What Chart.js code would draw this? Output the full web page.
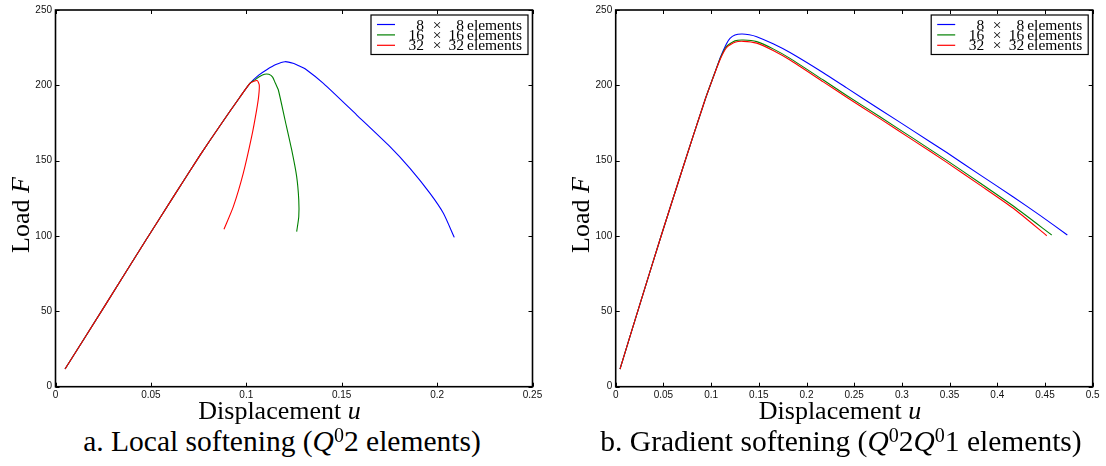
<!DOCTYPE html>
<html>
<head>
<meta charset="utf-8">
<script src="https://cdn.jsdelivr.net/npm/chart.js@4/dist/chart.umd.min.js"></script>
<style>
  html, body { margin: 0; padding: 0; background: #fff; }
  body { width: 1106px; height: 466px; position: relative; overflow: hidden;
         font-family: "Liberation Serif", "Times New Roman", serif; color: #000; }
  canvas { position: absolute; top: 0; }
  .txt { position: absolute; white-space: nowrap; text-align: center; line-height: 1; }
  .rot { transform: rotate(-90deg); }
  sup { font-size: 0.68em; vertical-align: 0; position: relative; top: -0.45em; }
</style>
</head>
<body>
<canvas id="chartLocal" width="560" height="410" style="left:0"></canvas>
<canvas id="chartGradient" width="546" height="410" style="left:560px"></canvas>

<div class="txt rot" style="left:-78.8px; top:202px; width:200px; height:26px; font-size:26px;">Load <i>F</i></div>
<div class="txt rot" style="left:481.4px; top:202px; width:200px; height:26px; font-size:26px;">Load <i>F</i></div>

<div class="txt" style="left:129.5px; top:397.5px; width:300px; font-size:26px;">Displacement <i>u</i></div>
<div class="txt" style="left:690px; top:397.5px; width:300px; font-size:26px;">Displacement <i>u</i></div>

<div class="txt" style="left:-18px; top:427px; width:600px; font-size:29.5px;">a. Local softening (<i>Q</i><sup>0</sup>2 elements)</div>
<div class="txt" style="left:541px; top:427px; width:600px; font-size:29.5px;">b. Gradient softening (<i>Q</i><sup>0</sup>2<i>Q</i><sup>0</sup>1 elements)</div>

<script>
// Axis ticks and their printed labels
const yTicks = [0, 50, 100, 150, 200, 250];
const yTickLabels = ['0', '50', '100', '150', '200', '250'];
const xTicksLocal = [0, 0.05, 0.1, 0.15, 0.2, 0.25];
const xTickLabelsLocal = ['0', '0.05', '0.1', '0.15', '0.2', '0.25'];
const xTicksGradient = [0, 0.05, 0.1, 0.15, 0.2, 0.25, 0.3, 0.35, 0.4, 0.45, 0.5];
const xTickLabelsGradient = ['0', '0.05', '0.1', '0.15', '0.2', '0.25', '0.3', '0.35', '0.4', '0.45', '0.5'];

// Mesh sizes (n x n elements) and line colours
const meshSizes = [8, 16, 32];
const meshColors = ['#0000ff', '#008000', '#ff0000'];

// Local softening: [displacement u, load F]
const local8 = [
  [0.005, 11.7], [0.026, 54], [0.047, 96.5], [0.062, 126.5], [0.0757, 153.5], [0.0862, 173.2],
  [0.0967, 192.3], [0.1019, 201.3], [0.1065, 206.8], [0.1107, 210.4], [0.1155, 213.8],
  [0.1203, 215.7], [0.1245, 214.6], [0.1281, 212.6], [0.1308, 211.0], [0.1404, 201.3],
  [0.1579, 180.3], [0.1753, 159.3], [0.1858, 144.9], [0.1963, 128.3], [0.2033, 115.1], [0.209, 99.1]
];
const local16 = [
  [0.005, 11.7], [0.026, 54], [0.047, 96.5], [0.062, 126.5], [0.0757, 153.5], [0.0862, 173.2],
  [0.0967, 192.3], [0.1019, 201.3], [0.1045, 203.6], [0.107, 205.9], [0.1096, 207.4],
  [0.1118, 207.3], [0.1138, 205.5], [0.1152, 201.5], [0.1168, 196.9], [0.1203, 177],
  [0.1238, 157.1], [0.1264, 139.4], [0.1275, 123.9], [0.1275, 112.8], [0.1264, 102.9]
];
const local32 = [
  [0.005, 11.7], [0.026, 54], [0.047, 96.5], [0.062, 126.5], [0.0757, 153.5], [0.0862, 173.2],
  [0.0967, 192.3], [0.1019, 201.3], [0.104, 202.7], [0.1058, 203.1], [0.1068, 200.2],
  [0.1065, 193], [0.1054, 183.6], [0.1028, 165.9], [0.0984, 141.6], [0.0932, 119.5], [0.0883, 104.5]
];

// Gradient softening: [displacement u, load F]
const gradient8 = [
  [0.0045, 11.7], [0.025, 54], [0.0476, 100], [0.07, 144.5], [0.0936, 190.3], [0.104, 208.5],
  [0.11, 219.0], [0.116, 227.5], [0.1198, 231.2], [0.125, 233.4], [0.1321, 234.1], [0.14, 233.6],
  [0.1478, 232.3], [0.165, 227.6], [0.1827, 221.8], [0.2176, 208.4], [0.2421, 198.3], [0.277, 184.0],
  [0.3119, 169.8], [0.347, 155.4], [0.3819, 140.6], [0.4168, 125.9], [0.4448, 113.7], [0.4734, 100.7]
];
const gradient16 = [
  [0.0045, 11.7], [0.025, 54], [0.0476, 100], [0.07, 144.5], [0.0936, 190.3], [0.104, 208.5],
  [0.11, 218.5], [0.1164, 226.0], [0.125, 229.5], [0.1338, 230.1], [0.1478, 229.0], [0.165, 224.2],
  [0.1827, 217.9], [0.2176, 203.5], [0.2421, 193.3], [0.277, 179.1], [0.3119, 164.8], [0.347, 150.2],
  [0.3819, 135.2], [0.4168, 119.9], [0.457, 100.7]
];
const gradient32 = [
  [0.0045, 11.7], [0.025, 54], [0.0476, 100], [0.07, 144.5], [0.0936, 190.3], [0.104, 208.3],
  [0.11, 218.0], [0.1164, 225.2], [0.125, 228.6], [0.1338, 229.2], [0.1478, 228.0], [0.165, 223.1],
  [0.1827, 216.8], [0.2176, 202.3], [0.2421, 192.1], [0.277, 177.9], [0.3119, 163.5], [0.347, 148.9],
  [0.3819, 133.8], [0.4168, 118.4], [0.4518, 100.2]
];

const SANS = '"Liberation Sans", Arial, sans-serif';
const SERIF = '"Liberation Serif", "Times New Roman", serif';

function makeDatasets(seriesList) {
  return seriesList.map((pts, i) => ({
    label: meshSizes[i] + ' \u00d7 ' + meshSizes[i] + ' elements',
    data: pts.map(p => ({ x: p[0], y: p[1] })),
    borderColor: meshColors[i],
    borderWidth: 1.1,
    pointRadius: 0,
    showLine: true,
    fill: false,
    tension: 0.2,
    // finer meshes are painted over coarser ones
    order: seriesList.length - i
  }));
}

// Frame, inward tick marks on all four sides and the boxed legend
const framePlugin = {
  id: 'frameAndLegend',
  afterDraw(chart) {
    const ctx = chart.ctx;
    const { left, right, top, bottom } = chart.chartArea;
    const xs = chart.scales.x, ys = chart.scales.y;
    ctx.save();
    ctx.strokeStyle = '#000';
    ctx.lineWidth = 1;
    const tl = 4;
    ctx.beginPath();
    xs.ticks.forEach(t => {
      const px = Math.round(xs.getPixelForValue(t.value)) + 0.5;
      ctx.moveTo(px, bottom); ctx.lineTo(px, bottom - tl);
      ctx.moveTo(px, top); ctx.lineTo(px, top + tl);
    });
    ys.ticks.forEach(t => {
      const py = Math.round(ys.getPixelForValue(t.value)) + 0.5;
      ctx.moveTo(left, py); ctx.lineTo(left + tl, py);
      ctx.moveTo(right, py); ctx.lineTo(right - tl, py);
    });
    ctx.stroke();
    ctx.lineWidth = 1.6;
    ctx.strokeRect(left, top, right - left, bottom - top);

    // legend box
    const bRight = right - 4.5, bw = 157, bh = 39.5;
    const bLeft = bRight - bw, bTop = top + 5;
    ctx.fillStyle = '#fff';
    ctx.fillRect(bLeft, bTop, bw, bh);
    ctx.lineWidth = 1.2;
    ctx.strokeRect(bLeft, bTop, bw, bh);
    ctx.font = '15.5px ' + SERIF;
    ctx.textBaseline = 'middle';
    ctx.fillStyle = '#000';
    chart.data.datasets.forEach((ds, i) => {
      const cy = bTop + 9.5 + i * 10.4;
      ctx.strokeStyle = ds.borderColor;
      ctx.lineWidth = 1.2;
      ctx.beginPath();
      ctx.moveTo(bLeft + 6, cy); ctx.lineTo(bLeft + 24, cy);
      ctx.stroke();
      const n = String(meshSizes[i]);
      ctx.textAlign = 'right';
      ctx.fillText(n, bRight - 104, cy + 1);
      ctx.textAlign = 'center';
      ctx.fillText('\u00d7', bRight - 91, cy + 1);
      ctx.textAlign = 'right';
      ctx.fillText(n, bRight - 64, cy + 1);
      ctx.textAlign = 'left';
      ctx.fillText('elements', bRight - 61, cy + 1);
    });
    ctx.restore();
  }
};

function makeChart(canvasId, seriesList, xTicks, xLabels, xMax, yWidth, padRight) {
  return new Chart(document.getElementById(canvasId), {
    type: 'scatter',
    data: { datasets: makeDatasets(seriesList) },
    options: {
      responsive: false,
      animation: false,
      devicePixelRatio: 1,
      layout: { padding: { left: 0, right: padRight, top: 10, bottom: 0 } },
      plugins: { legend: { display: false }, tooltip: { enabled: false } },
      scales: {
        x: {
          type: 'linear', min: 0, max: xMax,
          afterBuildTicks: s => { s.ticks = xTicks.map(v => ({ value: v })); },
          afterFit: s => { s.height = 23.3; },
          grid: { display: false, drawTicks: false },
          border: { display: false },
          ticks: {
            padding: 3, autoSkip: false, maxRotation: 0, color: '#111',
            font: { family: SANS, size: 10 },
            callback: (v, i) => xLabels[i]
          }
        },
        y: {
          type: 'linear', min: 0, max: 250,
          afterBuildTicks: s => { s.ticks = yTicks.map(v => ({ value: v })); },
          afterFit: s => { s.width = yWidth; },
          grid: { display: false, drawTicks: false },
          border: { display: false },
          ticks: {
            padding: 3.5, autoSkip: false, color: '#111',
            font: { family: SANS, size: 10 },
            callback: (v, i) => yTickLabels[i]
          }
        }
      }
    },
    plugins: [framePlugin]
  });
}

makeChart('chartLocal', [local8, local16, local32], xTicksLocal, xTickLabelsLocal, 0.25, 55.5, 27.5);
makeChart('chartGradient', [gradient8, gradient16, gradient32], xTicksGradient, xTickLabelsGradient, 0.5, 55.7, 13.3);
</script>
</body>
</html>
